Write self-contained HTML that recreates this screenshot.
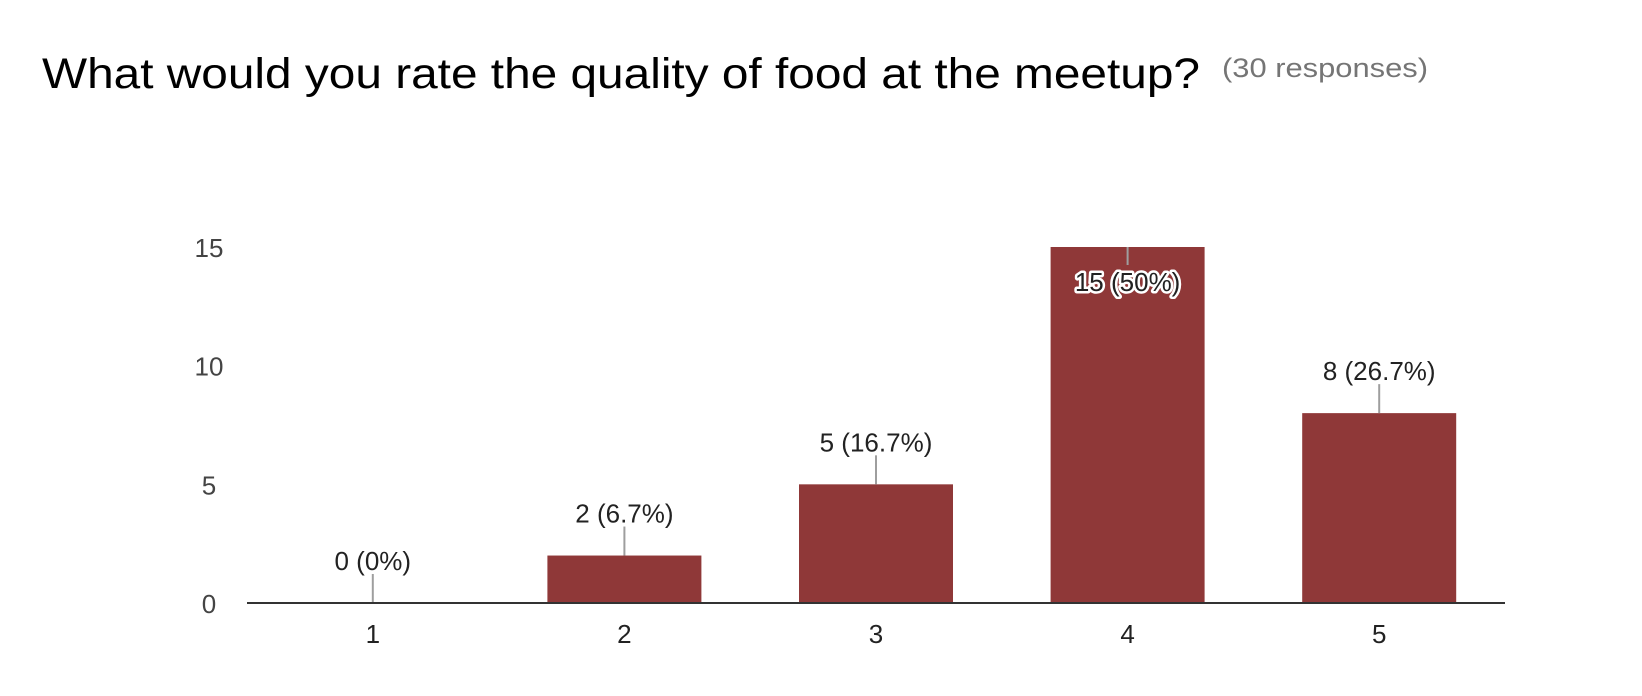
<!DOCTYPE html>
<html><head><meta charset="utf-8"><style>
html,body{margin:0;padding:0;background:#fff;}
svg{display:block;font-family:"Liberation Sans",Arial,sans-serif;}
</style></head><body>
<svg id="chart" width="1642" height="696" viewBox="0 0 1642 696" xmlns="http://www.w3.org/2000/svg">
<text x="42" y="88" font-size="43" fill="#000" textLength="1158" lengthAdjust="spacingAndGlyphs">What would you rate the quality of food at the meetup?</text>
<text x="1222" y="77" font-size="27" fill="#757575" textLength="206" lengthAdjust="spacingAndGlyphs">(30 responses)</text>
<g id="plot"></g>
</svg>
<script>
const categories = ["1","2","3","4","5"];
const counts = [0,2,5,15,8];
const valueLabels = ["0 (0%)","2 (6.7%)","5 (16.7%)","15 (50%)","8 (26.7%)"];
const yTicks = [0,5,10,15];

const NS="http://www.w3.org/2000/svg";
const g=document.getElementById('plot');
const x0=247,x1=1505,yBase=603,yTop=247,yMax=15;
const band=(x1-x0)/categories.length, barW=154;
const yS=v=>yBase-(v/yMax)*(yBase-yTop);
const xC=i=>x0+band*(i+0.5);
function mk(t,a){const e=document.createElementNS(NS,t);for(const k in a)e.setAttribute(k,a[k]);g.appendChild(e);return e;}

yTicks.forEach(v=>{
  const t=mk('text',{x:209,y:yS(v)+10,'font-size':26,fill:'#444','text-anchor':'middle'});
  
  
  t.textContent=v;
});
categories.forEach((c,i)=>{
  const v=counts[i];
  const top=yS(v);
  const r=mk('rect',{x:xC(i)-barW/2,y:top,width:barW,height:Math.max(yBase-top,1),fill:'#8f3838'});
  
  
  const inside = v>=yMax*0.9;
  let ty;
  if(inside){
    ty=top+44;
    const ln=mk('line',{x1:xC(i),y1:top,x2:xC(i),y2:top+18,stroke:'#9e9e9e','stroke-width':2});
    
    
  } else {
    ty=top-33;
    const ln=mk('line',{x1:xC(i),y1:top-29,x2:xC(i),y2:top,stroke:'#9e9e9e','stroke-width':2});
    
    
  }
  const t=mk('text',{x:xC(i),y:ty,'font-size':26,fill:'#222','text-anchor':'middle'});
  if(inside){t.setAttribute('stroke','#fff');t.setAttribute('stroke-width','5');t.setAttribute('paint-order','stroke');t.setAttribute('stroke-linejoin','round');}
  
  
  t.textContent=valueLabels[i];
  const cl=mk('text',{x:xC(i),y:643,'font-size':26,fill:'#222','text-anchor':'middle'});
  
  
  cl.textContent=c;
});
const ax=mk('line',{x1:x0,y1:yBase,x2:x1,y2:yBase,stroke:'#333','stroke-width':2});


</script>
</body></html>
